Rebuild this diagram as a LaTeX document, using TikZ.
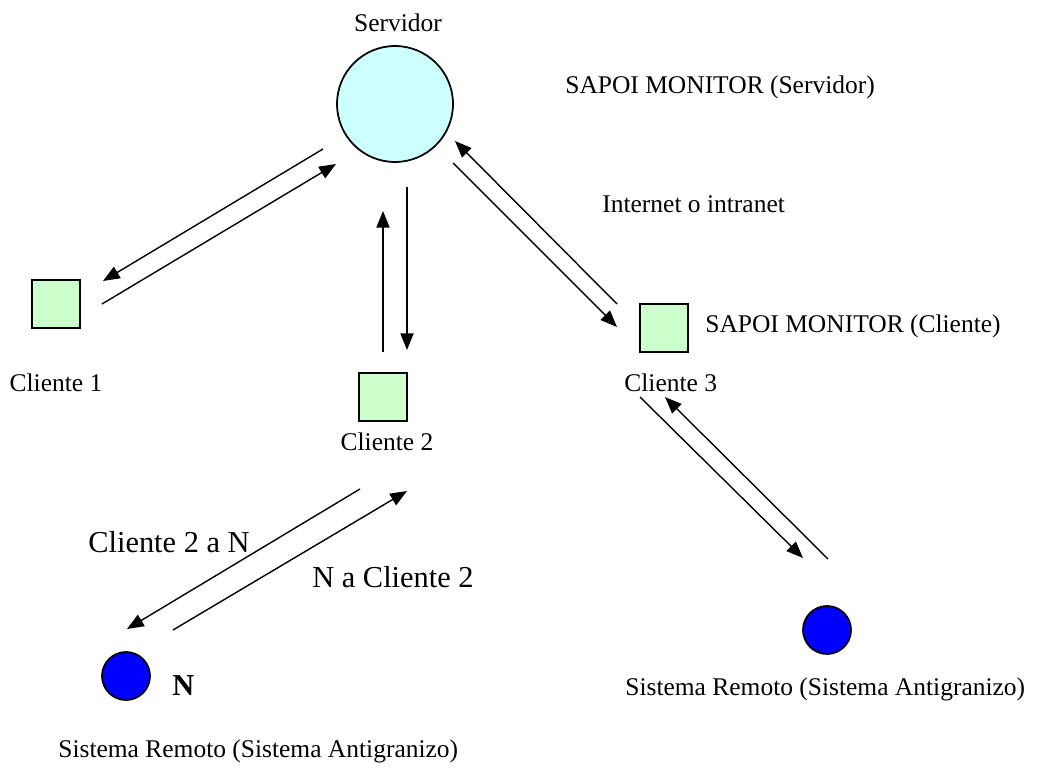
\documentclass[tikz,border=0pt]{standalone}
\usepackage{fontspec}
\setmainfont{Liberation Serif}
\usetikzlibrary{arrows.meta}
\definecolor{servcyan}{RGB}{204,255,255}
\definecolor{clientegreen}{RGB}{204,255,204}

\begin{document}
\begin{tikzpicture}[x=0.02cm,y=-0.02cm,
  txt/.style={inner sep=0pt,font=\fontsize{14.5}{17}\selectfont},
  bigtxt/.style={inner sep=0pt,font=\fontsize{17.3}{20}\selectfont},
  cliente/.style={draw,line width=1pt,fill=clientegreen,minimum size=0.96cm,inner sep=0pt},
  remoto/.style={circle,draw,line width=1pt,fill=blue,minimum size=0.96cm,inner sep=0pt},
  flecha/.style={line width=0.8pt,-{Triangle[length=9.5pt,width=7.5pt]}}]
\useasboundingbox (0,0) rectangle (1040,767);

% servidor
\node[circle,draw,line width=1pt,fill=servcyan,minimum size=2.32cm] (srv) at (395,104) {};
\node[txt,anchor=base] (srvlbl) at (398,32) {Servidor};
\node[txt,anchor=base west] (srvmon) at (565,93) {SAPOI MONITOR (Servidor)};
\node[txt,anchor=base west] (net) at (602,212) {Internet o intranet};

% clientes
\node[cliente] (c1) at (56,304) {};
\node[txt,anchor=base] (c1lbl) at (56,391) {Cliente 1};
\node[cliente] (c2) at (383,397) {};
\node[txt,anchor=base] (c2lbl) at (387,450) {Cliente 2};
\node[cliente] (c3) at (664,328) {};
\node[txt,anchor=base west] (c3mon) at (705,332) {SAPOI MONITOR (Cliente)};
\node[txt,anchor=base west] (c3lbl) at (624,391) {Cliente 3};

% sistemas remotos
\node[remoto] (rn) at (126,676) {};
\node[bigtxt,font=\fontsize{17.3}{20}\selectfont\bfseries,anchor=base west] (nlbl) at (172,695) {N};
\node[txt,anchor=base west] (rnlbl) at (58,757) {Sistema Remoto (Sistema Antigranizo)};
\node[remoto] (r3) at (827,630) {};
\node[txt,anchor=base west] (r3lbl) at (625,695) {Sistema Remoto (Sistema Antigranizo)};
\node[bigtxt,anchor=base west] (c2n) at (88,552) {Cliente 2 a N};
\node[bigtxt,anchor=base west] (nc2) at (312,587) {N a Cliente 2};

% extremos de las flechas
\coordinate (s1a) at (323,149); \coordinate (s1b) at (103,281);
\coordinate (s1c) at (102,304); \coordinate (s1d) at (336,164);
\coordinate (s2a) at (407,187); \coordinate (s2b) at (407,350);
\coordinate (s2c) at (383,352); \coordinate (s2d) at (383,211);
\coordinate (s3a) at (453,163); \coordinate (s3b) at (617,327);
\coordinate (s3c) at (617,304); \coordinate (s3d) at (455,141);
\coordinate (r3a) at (640,397); \coordinate (r3b) at (803,558);
\coordinate (r3c) at (828,559); \coordinate (r3d) at (665,397);
\coordinate (rna) at (360,489); \coordinate (rnb) at (127,629);
\coordinate (rnc) at (173,630); \coordinate (rnd) at (407,491);

\draw[flecha] (s1a)--(s1b);
\draw[flecha] (s1c)--(s1d);
\draw[flecha] (s2a)--(s2b);
\draw[flecha] (s2c)--(s2d);
\draw[flecha] (s3a)--(s3b);
\draw[flecha] (s3c)--(s3d);
\draw[flecha] (r3a)--(r3b);
\draw[flecha] (r3c)--(r3d);
\draw[flecha] (rna)--(rnb);
\draw[flecha] (rnc)--(rnd);
\end{tikzpicture}
\end{document}
